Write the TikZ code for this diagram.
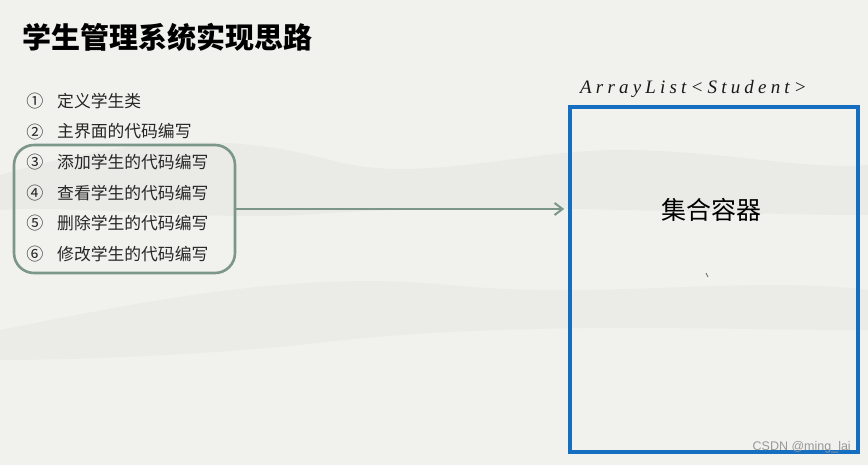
\documentclass[tikz,border=0pt]{standalone}
\usepackage{fontspec}
\setmainfont{Liberation Sans}
\newfontfamily\cjk{Noto Sans CJK SC}
\newfontfamily\arrfont{Liberation Serif}[LetterSpace=22]
\usetikzlibrary{arrows.meta}
\definecolor{bgc}{RGB}{241,241,237}
\definecolor{mist}{RGB}{228,230,226}
\definecolor{frame}{RGB}{124,150,138}
\definecolor{blu}{RGB}{22,110,192}
\tikzset{
  item/.style={anchor=west, inner sep=0pt, font=\cjk\fontsize{16.8}{18}\selectfont, text=black!85},
  num/.style={anchor=center, inner sep=0pt, font=\cjk\fontsize{17}{18}\selectfont, text=black!85},
}
\begin{document}
\begin{tikzpicture}[x=1pt,y=-1pt]
\useasboundingbox (0,0) rectangle (868,465);
\fill[bgc] (0,0) rectangle (868,465);
% misty mountains
\fill[mist,opacity=0.5] (0,175) .. controls (120,140) and (220,130) .. (330,160) .. controls (420,185) and (520,150) .. (620,150) .. controls (720,150) and (800,170) .. (868,165) -- (868,215) .. controls (700,215) and (500,200) .. (300,215) .. controls (200,220) and (80,205) .. (0,210) -- cycle;
\fill[mist,opacity=0.4] (0,330) .. controls (150,300) and (300,270) .. (450,285) .. controls (600,300) and (750,275) .. (868,290) -- (868,330) .. controls (700,330) and (500,320) .. (300,345) .. controls (200,355) and (80,360) .. (0,360) -- cycle;
% title
\node[anchor=west, inner sep=0pt, font=\cjk\bfseries\fontsize{29}{32}\selectfont] (title) at (22,37) {学生管理系统实现思路};
% list
\foreach \n/\s/\t [count=\i] in {①/0/定义学生类,②/1/主界面的代码编写,③/2/添加学生的代码编写,④/3/查看学生的代码编写,⑤/4/删除学生的代码编写,⑥/5/修改学生的代码编写}{
  \node[num] (n\i) at (35,{101+30.6*\s}) {\n};
  \node[item] (t\i) at (57,{101+30.6*\s}) {\t};
}
% rounded group
\node[draw=frame, line width=2.6pt, rounded corners=20pt, minimum width=221pt, minimum height=128pt, inner sep=0pt] (grp) at (124.5,209) {};
% container
\node[draw=blu, line width=3.6pt, minimum width=288pt, minimum height=345pt, inner sep=0pt] (box) at (714,279.5) {};
\node[anchor=west, inner sep=0pt, font=\arrfont\itshape\fontsize{19}{20}\selectfont, text=black!90] (lbl) at (580,89) {ArrayList<Student>};
\node[inner sep=0pt, font=\cjk\fontsize{25}{28}\selectfont] (cont) at (711,210) {集合容器};
\coordinate (tickA) at (706,273);
\coordinate (tickB) at (708,277);
\draw[black!60, line width=0.8pt] (tickA) -- (tickB);
% arrow
\draw[frame, line width=2pt, -{Straight Barb[length=8pt,width=12pt]}] (grp.east) -- ([xshift=-4pt]grp.east -| box.west);
% watermark
\node[anchor=east, inner sep=0pt, font=\fontsize{12.5}{13}\selectfont, text=black!40] (wm) at (851,447) {CSDN @ming\_lai};
\end{tikzpicture}
\end{document}
